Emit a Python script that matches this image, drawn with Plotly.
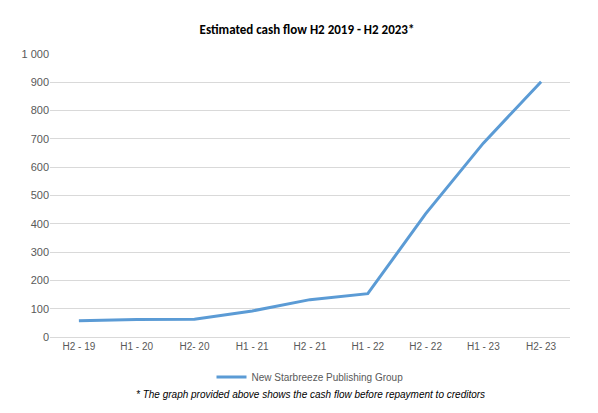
import plotly.graph_objects as go

categories = ["H2 - 19", "H1 - 20", "H2- 20", "H1 - 21", "H2 - 21", "H1 - 22", "H2 - 22", "H1 - 23", "H2- 23"]
values = [57, 62, 63, 92, 132, 153, 435, 685, 902]
yticks = list(range(0, 1001, 100))
ytick_labels = ["0", "100", "200", "300", "400", "500", "600", "700", "800", "900", "1 000"]

fig = go.Figure()
fig.add_trace(go.Scatter(x=categories, y=values, mode="lines",
                         line=dict(color="#5b9bd5", width=3),
                         name="New Starbreeze Publishing Group"))
fig.update_layout(
    width=598, height=413,
    margin=dict(l=42, r=36, t=46, b=84),
    paper_bgcolor="white", plot_bgcolor="white",
    font=dict(family="Liberation Sans, Arial", color="#595959", size=11),
    title=dict(text="<b>Estimated cash flow H2 2019 - H2 2023*</b>", x=0.5, y=0.96,
               xanchor="center", font=dict(size=13, color="#000000", family="Carlito, Liberation Sans")),
    xaxis=dict(type="category", range=[-0.5, 8.5], showgrid=False, showline=True,
               linecolor="#d9d9d9", ticks="", tickfont=dict(size=10)),
    yaxis=dict(range=[0, 1000], tickvals=yticks, ticktext=ytick_labels, showgrid=True,
               gridcolor="#d9d9d9", zeroline=False, ticks="", tickfont=dict(size=11)),
    showlegend=True,
    legend=dict(orientation="h", x=0.5, xanchor="center", y=-0.09, yanchor="top",
                font=dict(size=10, color="#595959")),
)
fig.add_annotation(text="<i>* The graph provided above shows the cash flow before repayment to creditors</i>",
                   xref="paper", yref="paper", x=0.5, y=-0.175, xanchor="center", yanchor="top",
                   showarrow=False, font=dict(size=10, color="#000000"))
fig.write_html("out.html")
